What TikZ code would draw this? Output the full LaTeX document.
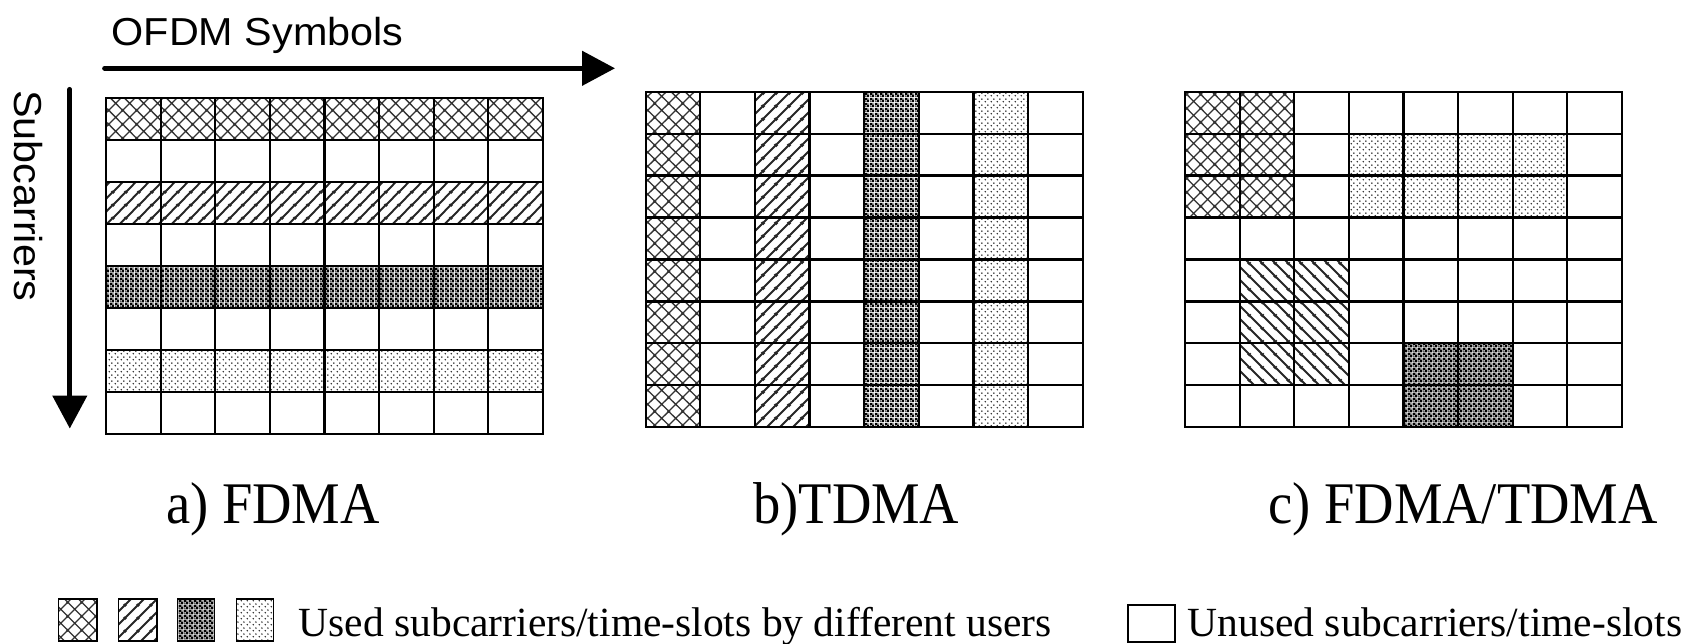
\documentclass[tikz,border=0pt]{standalone}
\usepackage{fontspec}
\setmainfont{Liberation Serif}
\newfontfamily\axisfont{Liberation Sans}
\usetikzlibrary{patterns,arrows.meta}

% one straight segment inside a pattern tile (values in pt)
\newcommand\patseg[4]{\pgfpathmoveto{\pgfqpoint{#1pt}{#2pt}}\pgfpathlineto{\pgfqpoint{#3pt}{#4pt}}}

% diamond cross-hatch
\pgfdeclarepatternformonly{xhatch}{\pgfqpoint{0pt}{0pt}}{\pgfqpoint{13.65pt}{13.65pt}}{\pgfqpoint{13.65pt}{13.65pt}}{%
  \pgfsetlinewidth{1.3pt}%
  \patseg{-1}{-14.65}{14.65}{1}\patseg{-1}{-1}{14.65}{14.65}\patseg{-1}{12.65}{14.65}{28.3}%
  \patseg{-1}{1}{14.65}{-14.65}\patseg{-1}{14.65}{14.65}{-1}\patseg{-1}{28.3}{14.65}{12.65}%
  \pgfusepath{stroke}}
% rising diagonal lines
\pgfdeclarepatternformonly{nehatch}{\pgfqpoint{0pt}{0pt}}{\pgfqpoint{12.5pt}{12.5pt}}{\pgfqpoint{12.5pt}{12.5pt}}{%
  \pgfsetlinewidth{2pt}%
  \patseg{-1}{-13.5}{13.5}{1}\patseg{-1}{-1}{13.5}{13.5}\patseg{-1}{11.5}{13.5}{26}%
  \pgfusepath{stroke}}
% falling diagonal lines
\pgfdeclarepatternformonly{nwhatch}{\pgfqpoint{0pt}{0pt}}{\pgfqpoint{12.5pt}{12.5pt}}{\pgfqpoint{12.5pt}{12.5pt}}{%
  \pgfsetlinewidth{2pt}%
  \patseg{-1}{1}{13.5}{-13.5}\patseg{-1}{13.5}{13.5}{-1}\patseg{-1}{26}{13.5}{11.5}%
  \pgfusepath{stroke}}
% fine dark checkerboard
\pgfdeclarepatternformonly{checker}{\pgfqpoint{0pt}{0pt}}{\pgfqpoint{4.6pt}{4.6pt}}{\pgfqpoint{4.6pt}{4.6pt}}{%
  \pgfpathrectangle{\pgfqpoint{0pt}{0pt}}{\pgfqpoint{4.6pt}{4.6pt}}%
  \pgfpathrectangle{\pgfqpoint{0.35pt}{0.35pt}}{\pgfqpoint{1.6pt}{1.6pt}}%
  \pgfpathrectangle{\pgfqpoint{2.65pt}{2.65pt}}{\pgfqpoint{1.6pt}{1.6pt}}%
  \pgfseteorule\pgfusepath{fill}}
% sparse staggered dots
\pgfdeclarepatternformonly{dotgrid}{\pgfqpoint{0pt}{0pt}}{\pgfqpoint{6pt}{6pt}}{\pgfqpoint{6pt}{6pt}}{%
  \pgfpathcircle{\pgfqpoint{1.5pt}{1.5pt}}{0.95pt}%
  \pgfpathcircle{\pgfqpoint{4.5pt}{4.5pt}}{0.95pt}%
  \pgfusepath{fill}}

% 8x8 grid of cells in cell units
\newcommand\cellgrid{%
  \foreach \i in {1,...,7}{\draw[gridline] (\i,0)--(\i,8); \draw[gridline] (0,\i)--(8,\i);}%
  \draw[gridline] (0,0) rectangle (8,8);}

\begin{document}
\begin{tikzpicture}[x=1pt,y=-1pt,
  gridline/.style={line width=2.2pt},
  axis/.style={line width=4.7pt, line cap=round, -{Triangle[length=33pt,width=34pt]}},
  xh/.style={pattern=xhatch, pattern color=black!80},
  ne/.style={pattern=nehatch, pattern color=black!85},
  nw/.style={pattern=nwhatch, pattern color=black!85},
  ck/.style={pattern=checker, pattern color=black},
  dt/.style={pattern=dotgrid, pattern color=black!85},
  labeltext/.style={inner sep=0pt, anchor=base west, font=\fontsize{59}{60}\selectfont},
  legendtext/.style={inner sep=0pt, anchor=base west, font=\fontsize{41.5}{44}\selectfont},
  axistext/.style={inner sep=0pt, anchor=base west, font=\axisfont\fontsize{39}{40}\selectfont},
  legbox/.style={draw, line width=1.6pt, inner sep=0pt, anchor=north west}]
\useasboundingbox (0,0) rectangle (1692,643);

% axes
\node[axistext] (ofdm) at (111.5,45) {\scalebox{1.06}[1]{OFDM Symbols}};
\node[axistext, rotate=-90] (subc) at (14,90) {\scalebox{1.06}[1]{Subcarriers}};
\coordinate (hstart) at (104.5,68.3);
\coordinate (hend) at (615,68.3);
\draw[axis] (hstart) -- (hend);
\coordinate (vstart) at (69.8,89.3);
\coordinate (vend) at (69.8,428.5);
\draw[axis] (vstart) -- (vend);

% a) FDMA: one subcarrier band per user
\begin{scope}[shift={(106pt,-98.3pt)}, x=54.625pt, y=-41.94pt]
  \fill[xh] (0,0) rectangle (8,1);
  \fill[ne] (0,2) rectangle (8,3);
  \fill[ck] (0,4) rectangle (8,5);
  \fill[dt] (0,6) rectangle (8,7);
  \cellgrid
\end{scope}

% b) TDMA: one symbol column per user
\begin{scope}[shift={(645.7pt,-91.7pt)}, x=54.625pt, y=-41.94pt]
  \fill[xh] (0,0) rectangle (1,8);
  \fill[ne] (2,0) rectangle (3,8);
  \fill[ck] (4,0) rectangle (5,8);
  \fill[dt] (6,0) rectangle (7,8);
  \cellgrid
\end{scope}

% c) FDMA/TDMA: blocks of subcarriers and symbols
\begin{scope}[shift={(1185pt,-91.7pt)}, x=54.625pt, y=-41.94pt]
  \fill[xh] (0,0) rectangle (2,3);
  \fill[dt] (3,1) rectangle (7,3);
  \fill[nw] (1,4) rectangle (3,7);
  \fill[ck] (4,6) rectangle (6,8);
  \cellgrid
\end{scope}

% captions
\node[labeltext] (lblA) at (166,523) {\scalebox{0.925}[1]{a) FDMA}};
\node[labeltext] (lblB) at (753,523) {\scalebox{0.925}[1]{b)TDMA}};
\node[labeltext] (lblC) at (1268,523) {\scalebox{0.925}[1]{c) FDMA/TDMA}};

% legend
\node[legbox, xh, minimum width=38.5pt, minimum height=42pt] (keyA) at (57.5,598) {};
\node[legbox, ne, minimum width=38.5pt, minimum height=42pt] (keyB) at (117.5,598) {};
\node[legbox, ck, minimum width=37pt, minimum height=42pt] (keyC) at (176.5,598) {};
\node[legbox, dt, minimum width=37pt, minimum height=42pt] (keyD) at (235.5,598) {};
\node[legendtext] (usedtxt) at (298.5,636) {Used subcarriers/time-slots by different users};
\node[legbox, minimum width=47pt, minimum height=37pt] (keyE) at (1127,604) {};
\node[legendtext] (unusedtxt) at (1187.5,636) {Unused subcarriers/time-slots};
\end{tikzpicture}
\end{document}
